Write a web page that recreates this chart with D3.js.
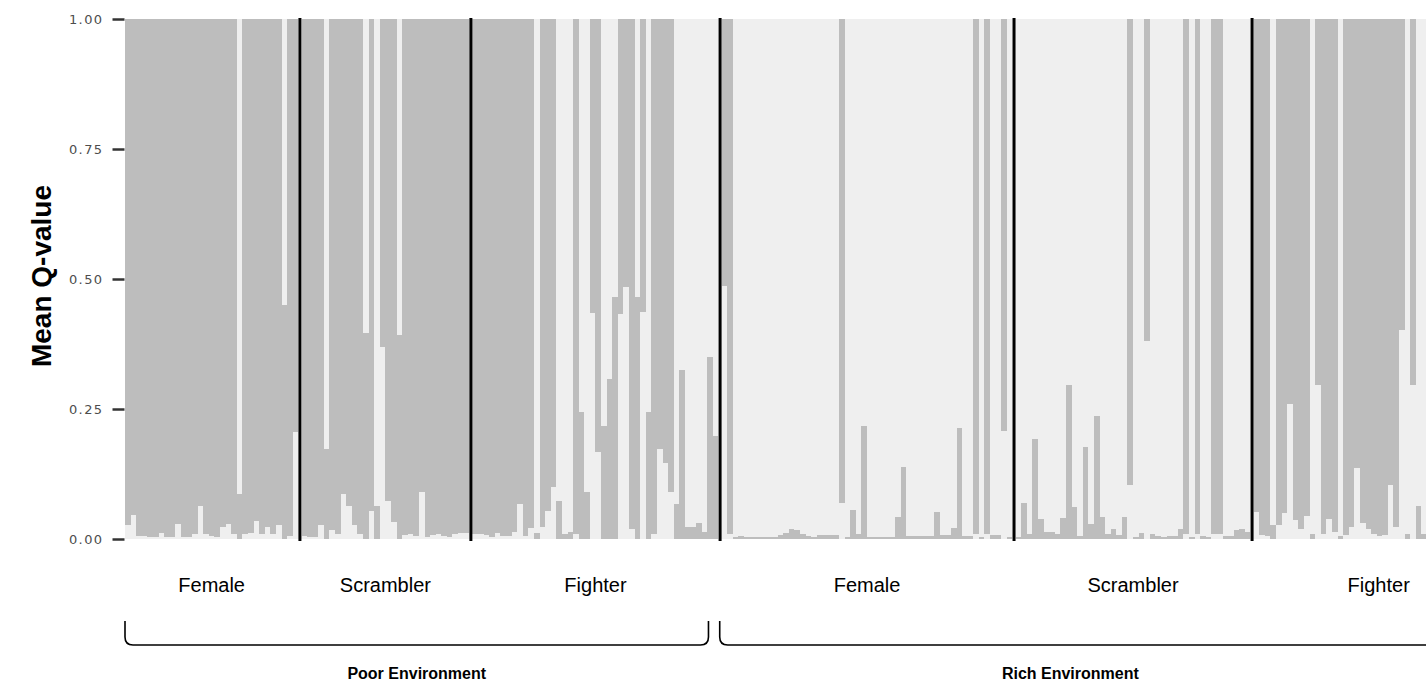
<!DOCTYPE html>
<html>
<head>
<meta charset="utf-8">
<script src="https://cdn.jsdelivr.net/npm/d3@7"></script>
<style>
  html, body { margin: 0; padding: 0; background: #ffffff; }
  svg { display: block; }
</style>
</head>
<body>
<svg id="chart" width="1426" height="687"></svg>
<script>
// ---------------- DATA (proportion of the grey cluster per individual) ----------------
const groupNames = ["Female", "Scrambler", "Fighter", "Female", "Scrambler", "Fighter"];
const envNames = ["Poor Environment", "Rich Environment"];
const yTicks = [0, 0.25, 0.5, 0.75, 1];
const yTitle = "Mean Q-value";

const poorFemale = [.973, .954, .995, .995, .997, .996, .988, .997, .997, .972, .997, .996, .99, .937, .991,
  .994, .996, .977, .972, .991, .086, .99, .988, .966, .99, .977, .99, .973, .45, .994, .795];

const poorScrambler = [.995, .997, .997, .973, .174, .983, .99, .914, .937, .973, .99, .397, .947, .063, .63,
  .927, .968, .393, .993, .99, .995, .91, .996, .993, .99, .995, .996, .99, .988, .988];

const poorFighter = [.99, .99, .993, .997, .988, .995, .995, .987, .932, .995, .979, .012, .977, .947, .9,
  .074, .01, .013, .99, .244, .09, .566, .833, .217, .307, .466, .568, .516, .98, .466,
  .564, .245, .99, .826, .854, .91, .068, .325, .023, .023, .03, .013, .35, .198];

const richFemale = [.513, .99, .004, .005, .003, .004, .004, .004, .004, .004, .007, .011, .019, .017, .01,
  .005, .003, .007, .007, .007, .007, .93, .003, .055, .01, .217, .004, .004, .004, .004,
  .004, .043, .138, .005, .005, .005, .005, .005, .052, .007, .007, .021, .214, .005, .005,
  .99, .004, .99, .007, .007, .793, .004];

const richScrambler = [.004, .07, .009, .192, .038, .013, .013, .01, .04, .296, .062, .006, .177, .029, .236,
  .043, .01, .019, .008, .043, .896, .004, .012, .62, .01, .006, .004, .006, .006, .019,
  .99, .004, .99, .006, .004, .99, .99, .006, .006, .017, .02, .014];

const richFighter = [.949, .993, .995, .027, .973, .95, .741, .964, .98, .956, .01, .704, .99, .962, .987,
  .005, .992, .977, .864, .97, .98, .991, .995, .993, .897, .977, .599, .01, .704, .063, .01];

const groupData = [poorFemale, poorScrambler, poorFighter, richFemale, richScrambler, richFighter];

// ---------------- LAYOUT ----------------
const W = 1426, H = 687;
const plotLeft = 125, plotRight = 1427, plotTop = 19, plotBottom = 539;
const gapUnits = 0.58;          // space (in bar units) taken by each separator line
const greyCol = "#bdbdbd", lightCol = "#efefef";

const inds = [];
const groupStart = [], groupEnd = [];
let u = 0;
groupData.forEach((arr, g) => {
  if (g > 0) u += gapUnits;
  groupStart.push(u);
  arr.forEach((q, i) => { inds.push({ g, i, u, q }); u += 1; });
  groupEnd.push(u);
});
const totalUnits = u;

const svg = d3.select("#chart");
const x = d3.scaleLinear().domain([0, totalUnits]).range([plotLeft, plotRight]);
const y = d3.scaleLinear().domain([0, 1]).range([plotBottom, plotTop]);

svg.append("rect")
  .attr("x", x(0)).attr("y", y(1))
  .attr("width", x(totalUnits) - x(0)).attr("height", y(0) - y(1))
  .attr("fill", lightCol);

// segments: smaller component at the bottom
const segs = [];
inds.forEach(d => {
  const comps = [{ v: d.q, c: greyCol }, { v: 1 - d.q, c: lightCol }].sort((a, b) => a.v - b.v);
  let acc = 0;
  comps.forEach(cp => {
    segs.push({ u: d.u, y0: acc, y1: acc + cp.v, c: cp.c });
    acc += cp.v;
  });
});

svg.append("g").attr("shape-rendering", "crispEdges")
  .selectAll("rect").data(segs.filter(s => s.c === greyCol)).join("rect")
  .attr("x", s => x(s.u))
  .attr("width", s => x(s.u + 1) - x(s.u))
  .attr("y", s => y(s.y1))
  .attr("height", s => y(s.y0) - y(s.y1))
  .attr("fill", s => s.c);

// separator lines between groups
const seps = groupStart.slice(1).map(s => s - gapUnits / 2);
svg.append("g").selectAll("line").data(seps).join("line")
  .attr("x1", s => x(s)).attr("x2", s => x(s))
  .attr("y1", y(1) - 1).attr("y2", y(0) + 2)
  .attr("stroke", "#000").attr("stroke-width", 3);

// y axis
const yAxis = d3.axisLeft(y).tickValues(yTicks).tickFormat(d3.format(".2f")).tickSize(12).tickPadding(9);
const ga = svg.append("g").attr("transform", `translate(${plotLeft - 0.5},0)`).call(yAxis);
ga.select(".domain").remove();
ga.selectAll(".tick line").attr("stroke", "#333").attr("stroke-width", 2.5);
ga.selectAll(".tick text")
  .attr("fill", "#4d4d4d")
  .style("font-family", "'DejaVu Sans', Verdana, sans-serif")
  .style("font-size", "13px")
  .style("letter-spacing", "1.4px");

// y title
svg.append("text")
  .attr("transform", `translate(51, ${(plotTop + plotBottom) / 2 - 3}) rotate(-90)`)
  .attr("text-anchor", "middle")
  .style("font-family", "'Liberation Sans', Arial, sans-serif")
  .style("font-weight", "bold")
  .style("font-size", "28px")
  .attr("fill", "#000")
  .text(yTitle);

// group labels
const labelCenters = groupStart.map((s, g) => {
  if (g === groupData.length - 1) return x(s) + 125; // group continues beyond the picture
  return (x(s) + x(groupEnd[g])) / 2;
});
svg.append("g").selectAll("text").data(groupNames).join("text")
  .attr("x", (d, g) => labelCenters[g])
  .attr("y", 592)
  .attr("text-anchor", "middle")
  .style("font-family", "'Liberation Sans', Arial, sans-serif")
  .style("font-size", "20px")
  .attr("fill", "#000")
  .text(d => d);

// brackets
const poorL = x(groupStart[0]), poorR = x(groupEnd[2]) - 10;
const richL = x(groupStart[3]) - 2, richR = W + 20;
const bTop = 621, bBot = 645, r = 8;
const bracket = (L, R) => `M${L},${bTop} L${L},${bBot - r} Q${L},${bBot} ${L + r},${bBot} L${R - r},${bBot} Q${R},${bBot} ${R},${bBot - r} L${R},${bTop}`;
svg.append("path").attr("d", bracket(poorL, poorR)).attr("fill", "none").attr("stroke", "#000").attr("stroke-width", 1.6);
svg.append("path").attr("d", bracket(richL, richR)).attr("fill", "none").attr("stroke", "#000").attr("stroke-width", 1.6);

svg.append("g").selectAll("text").data(envNames).join("text")
  .attr("x", (d, i) => i === 0 ? (poorL + poorR) / 2 : (richL + 1421) / 2)
  .attr("y", 679)
  .attr("text-anchor", "middle")
  .style("font-family", "'Liberation Sans', Arial, sans-serif")
  .style("font-weight", "bold")
  .style("font-size", "16px")
  .attr("fill", "#000")
  .text(d => d);
</script>
</body>
</html>
